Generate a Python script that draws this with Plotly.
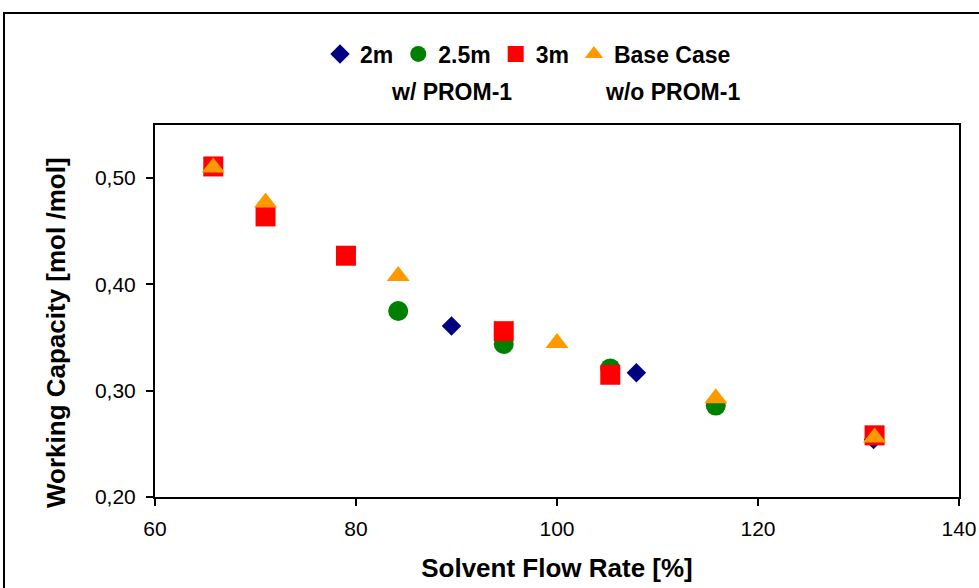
import plotly.graph_objects as go

# Working capacity vs. solvent flow rate for different packing heights
x_2m = [89.5, 107.9, 131.5]
y_2m = [0.361, 0.317, 0.254]

x_25m = [84.2, 94.7, 105.3, 115.8]
y_25m = [0.375, 0.344, 0.321, 0.286]

x_3m = [65.8, 71.0, 79.0, 94.7, 105.3, 131.6]
y_3m = [0.511, 0.464, 0.427, 0.356, 0.315, 0.258]

x_base = [65.8, 71.0, 84.2, 100.0, 115.8, 131.6]
y_base = [0.510, 0.477, 0.408, 0.345, 0.293, 0.256]

x_ticks = [60, 80, 100, 120, 140]
y_ticks = [0.20, 0.30, 0.40, 0.50]

FONT = "Liberation Sans, Arial, sans-serif"

# plot-area placement in pixels
L, R, T, B = 155, 959, 125, 497
W, H = 979, 588


def px_x(p):
    return (p - L) / (R - L)


def px_y(p):
    return (B - p) / (B - T)


fig = go.Figure()
fig.add_trace(go.Scatter(x=x_2m, y=y_2m, mode="markers", name="2m",
                         marker=dict(symbol="diamond", size=15, color="#000080")))
fig.add_trace(go.Scatter(x=x_25m, y=y_25m, mode="markers", name="2.5m",
                         marker=dict(symbol="circle", size=20, color="#008000")))
fig.add_trace(go.Scatter(x=x_3m, y=y_3m, mode="markers", name="3m",
                         marker=dict(symbol="square", size=20, color="#FF0000")))
fig.add_trace(go.Scatter(x=x_base, y=y_base, mode="markers", name="Base Case",
                         marker=dict(symbol="triangle-up", size=20, color="#FF9900")))

axis_common = dict(
    showline=True, linecolor="black", linewidth=2, mirror=True,
    ticks="outside", ticklen=7, tickwidth=2, tickcolor="black",
    showgrid=False, zeroline=False, automargin=False,
    tickfont=dict(family=FONT, size=21, color="black"),
)

fig.update_xaxes(range=[60, 140], tickvals=x_ticks, ticklabelstandoff=5,
                 title=dict(text="<b>Solvent Flow Rate [%]</b>", standoff=20,
                            font=dict(family=FONT, size=26, color="black")),
                 **axis_common)
fig.update_yaxes(range=[0.20, 0.55], tickvals=y_ticks, tickformat=".2f",
                 ticklabelstandoff=6, **axis_common)

# y-axis title, placed as a rotated annotation
fig.add_annotation(text="<b>Working Capacity [mol /mol]</b>", textangle=-90,
                   xref="paper", yref="paper", x=px_x(56), y=px_y(333),
                   xanchor="center", yanchor="middle", showarrow=False,
                   font=dict(family=FONT, size=26, color="black"))

# outer chart frame
fig.add_shape(type="rect", xref="paper", yref="paper",
              x0=px_x(4), x1=px_x(1100), y0=px_y(700), y1=px_y(13),
              line=dict(color="black", width=2), fillcolor="rgba(0,0,0,0)")

for txt, xc in [("<b>w/ PROM-1</b>", 451), ("<b>w/o PROM-1</b>", 672)]:
    fig.add_annotation(text=txt, xref="paper", yref="paper",
                       x=px_x(xc), y=px_y(92),
                       xanchor="center", yanchor="middle", showarrow=False,
                       font=dict(family=FONT, size=23, color="black"))

fig.update_layout(
    width=W, height=H,
    margin=dict(l=L, r=W - R, t=T, b=H - B, autoexpand=False),
    paper_bgcolor="white", plot_bgcolor="white",
    separators=",.",
    font=dict(family=FONT, color="black"),
    legend=dict(orientation="h", x=px_x(320), xanchor="left",
                y=px_y(54), yanchor="middle",
                font=dict(family=FONT, size=23, color="black", weight="bold"),
                itemwidth=30, bgcolor="rgba(0,0,0,0)"),
)

fig.write_html("out.html")
